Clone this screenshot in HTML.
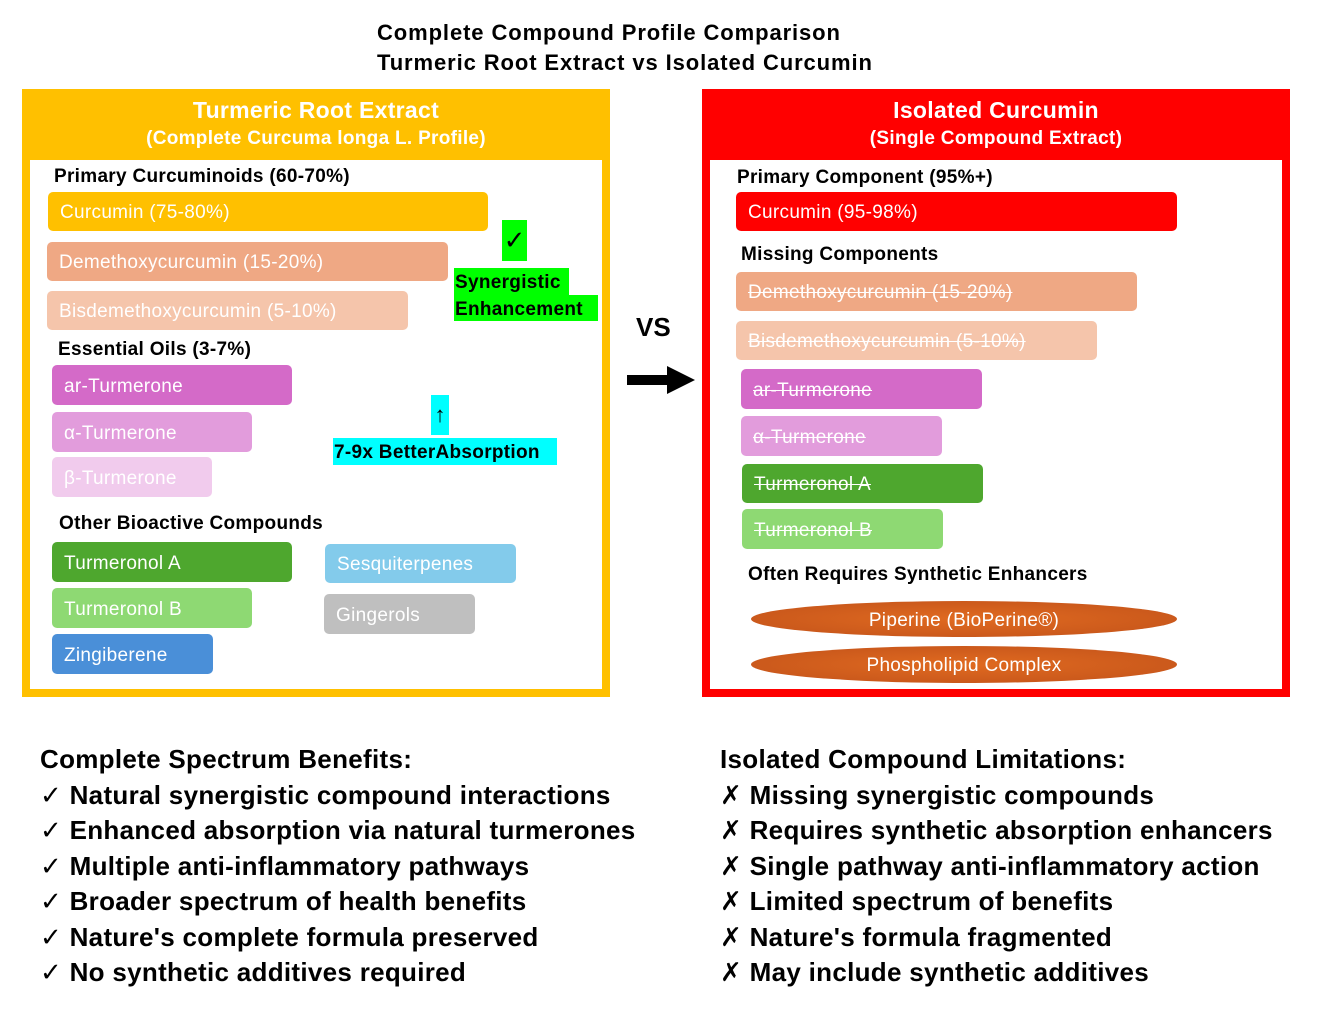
<!DOCTYPE html>
<html><head><meta charset="utf-8"><style>
body{margin:0;width:1319px;height:1015px;background:#fff;position:relative;font-family:"Liberation Sans","DejaVu Sans",sans-serif;overflow:hidden}
div{position:absolute;box-sizing:border-box}
.t{white-space:nowrap}
.bar{border-radius:5px;color:#fff;font-size:19px;padding-left:12px;padding-top:3px;display:flex;align-items:center;white-space:nowrap;letter-spacing:0.3px}
.s{text-decoration:line-through}
.h{font-weight:bold;font-size:19px;color:#000;white-space:nowrap;letter-spacing:0.3px}
.hd{color:#fff;font-weight:bold;text-align:center;width:100%;white-space:nowrap;letter-spacing:0.3px}
.lst{font-weight:bold;font-size:26px;line-height:35.5px;color:#000;white-space:nowrap;letter-spacing:0.3px}
.ell{border-radius:50%;color:#fff;font-size:19px;padding-top:3px;display:flex;align-items:center;justify-content:center;background:radial-gradient(ellipse at center,#e06a20 0%,#c2521a 100%);letter-spacing:0.3px}
</style></head><body>
<div class="t" style="left:377px;top:18px;font-weight:bold;font-size:22px;line-height:30px;letter-spacing:0.9px">Complete Compound Profile Comparison<br>Turmeric Root Extract vs Isolated Curcumin</div>

<!-- left box -->
<div style="left:22px;top:89px;width:588px;height:608px;background:#ffc000"></div>
<div style="left:30px;top:160px;width:572px;height:529px;background:#fff"></div>
<div class="hd" style="left:22px;top:97px;width:588px;font-size:23px">Turmeric Root Extract</div>
<div class="hd" style="left:22px;top:128px;width:588px;font-size:19px">(Complete Curcuma longa L. Profile)</div>
<div class="h" style="left:54px;top:166px">Primary Curcuminoids (60-70%)</div>
<div class="bar" style="left:48px;top:192px;width:440px;height:39px;background:#ffc000">Curcumin (75-80%)</div>
<div class="bar" style="left:47px;top:242px;width:401px;height:39px;background:#efa884">Demethoxycurcumin (15-20%)</div>
<div class="bar" style="left:47px;top:291px;width:361px;height:39px;background:#f5c5ab">Bisdemethoxycurcumin (5-10%)</div>
<div class="h" style="left:58px;top:339px">Essential Oils (3-7%)</div>
<div class="bar" style="left:52px;top:365px;width:240px;height:40px;background:#d46ac8">ar-Turmerone</div>
<div class="bar" style="left:52px;top:412px;width:200px;height:40px;background:#e29cdc">α-Turmerone</div>
<div class="bar" style="left:52px;top:457px;width:160px;height:40px;background:#f1cbed">β-Turmerone</div>
<div class="h" style="left:59px;top:513px">Other Bioactive Compounds</div>
<div class="bar" style="left:52px;top:542px;width:240px;height:40px;background:#4ea72e">Turmeronol A</div>
<div class="bar" style="left:52px;top:588px;width:200px;height:40px;background:#8ed973">Turmeronol B</div>
<div class="bar" style="left:52px;top:634px;width:161px;height:40px;background:#4a8fd8">Zingiberene</div>
<div class="bar" style="left:325px;top:544px;width:191px;height:39px;background:#83cbeb">Sesquiterpenes</div>
<div class="bar" style="left:324px;top:594px;width:151px;height:40px;background:#bfbfbf">Gingerols</div>
<div style="left:502px;top:220px;width:25px;height:41px;background:#00ff00;font-size:26px;text-align:center;line-height:41px">✓</div>
<div style="left:454px;top:268px;width:115px;height:27px;background:#00ff00"></div>
<div style="left:454px;top:295px;width:144px;height:26px;background:#00ff00"></div>
<div class="h" style="left:455px;top:269px;line-height:27px">Synergistic<br>Enhancement</div>
<div style="left:431px;top:395px;width:18px;height:40px;background:#00ffff;text-align:center;font-size:22px;line-height:40px">↑</div>
<div style="left:333px;top:438px;width:224px;height:27px;background:#00ffff"></div>
<div class="h" style="left:334px;top:439px;line-height:27px">7-9x BetterAbsorption</div>

<!-- vs -->
<div class="t" style="left:636px;top:312px;font-weight:bold;font-size:26px">VS</div>
<div style="left:627px;top:375px;width:42px;height:10px;background:#000"></div>
<div style="left:667px;top:366px;width:0;height:0;border-top:14px solid transparent;border-bottom:14px solid transparent;border-left:28px solid #000"></div>

<!-- right box -->
<div style="left:702px;top:89px;width:588px;height:608px;background:#ff0000"></div>
<div style="left:710px;top:160px;width:572px;height:529px;background:#fff"></div>
<div class="hd" style="left:702px;top:97px;width:588px;font-size:23px">Isolated Curcumin</div>
<div class="hd" style="left:702px;top:128px;width:588px;font-size:19px">(Single Compound Extract)</div>
<div class="h" style="left:737px;top:167px">Primary Component (95%+)</div>
<div class="bar" style="left:736px;top:192px;width:441px;height:39px;background:#ff0000">Curcumin (95-98%)</div>
<div class="h" style="left:741px;top:244px">Missing Components</div>
<div class="bar s" style="left:736px;top:272px;width:401px;height:39px;background:#efa884">Demethoxycurcumin (15-20%)</div>
<div class="bar s" style="left:736px;top:321px;width:361px;height:39px;background:#f5c5ab">Bisdemethoxycurcumin (5-10%)</div>
<div class="bar s" style="left:741px;top:369px;width:241px;height:40px;background:#d46ac8">ar-Turmerone</div>
<div class="bar s" style="left:741px;top:416px;width:201px;height:40px;background:#e29cdc">α-Turmerone</div>
<div class="bar s" style="left:742px;top:464px;width:241px;height:39px;background:#4ea72e">Turmeronol A</div>
<div class="bar s" style="left:742px;top:509px;width:201px;height:40px;background:#8ed973">Turmeronol B</div>
<div class="h" style="left:748px;top:564px">Often Requires Synthetic Enhancers</div>
<div class="ell" style="left:751px;top:601px;width:426px;height:36px">Piperine (BioPerine®)</div>
<div class="ell" style="left:751px;top:646px;width:426px;height:37px">Phospholipid Complex</div>

<!-- lists -->
<div class="lst" style="left:40px;top:742px">Complete Spectrum Benefits:<br>✓ Natural synergistic compound interactions<br>✓ Enhanced absorption via natural turmerones<br>✓ Multiple anti-inflammatory pathways<br>✓ Broader spectrum of health benefits<br>✓ Nature's complete formula preserved<br>✓ No synthetic additives required</div>
<div class="lst" style="left:720px;top:742px">Isolated Compound Limitations:<br>✗ Missing synergistic compounds<br>✗ Requires synthetic absorption enhancers<br>✗ Single pathway anti-inflammatory action<br>✗ Limited spectrum of benefits<br>✗ Nature's formula fragmented<br>✗ May include synthetic additives</div>
</body></html>
